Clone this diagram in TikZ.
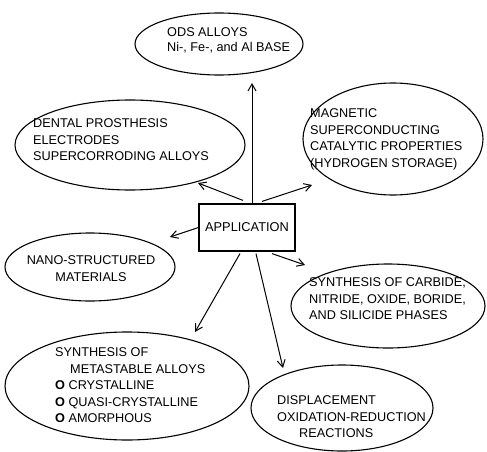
\documentclass[tikz,border=0pt]{standalone}
\usepackage{fontspec}
\setmainfont{Liberation Sans}
\usepackage{tikz}
\usetikzlibrary{calc,shapes.geometric,arrows.meta}
\tikzset{
  blob/.style={draw, ellipse, line width=1.1pt, inner sep=0pt},
  label/.style={inner sep=0pt, anchor=base west, align=left,
    font=\fontsize{12.7}{16.5}\selectfont},
  arr/.style={line width=1pt, -{Straight Barb[length=7pt,width=8pt]}}
}
\begin{document}
\begin{tikzpicture}[x=1pt,y=-1pt]
        \useasboundingbox (0,0) rectangle (487,452);
        % ellipses
        \node[blob, minimum width=168pt, minimum height=62pt] (ods) at (219,44) {};
        \node[blob, minimum width=230pt, minimum height=90pt] (dental) at (130,145) {};
        \node[blob, minimum width=180pt, minimum height=112pt] (magnetic) at (393,139) {};
        \node[blob, minimum width=170pt, minimum height=68pt] (nano) at (90,267) {};
        \node[blob, minimum width=194pt, minimum height=84pt] (carbide) at (388,306) {};
        \node[blob, minimum width=244pt, minimum height=108pt] (metastable) at (127,386) {};
        \node[blob, minimum width=182pt, minimum height=86pt] (displace) at (342,408) {};
        % centre box
        \node[draw, line width=1.2pt, minimum width=96pt, minimum height=47pt, inner sep=0pt,
            font=\fontsize{12.8}{15}\selectfont] (app) at (247,227.5) {APPLICATION};
        % texts (anchored at the baseline of the last line)
        \node[label, font=\fontsize{12.7}{15}\selectfont] (ods-text) at (167,51.5)
            {ODS ALLOYS\\Ni-, Fe-, and Al BASE};
        \node[label] (dental-text) at (33,160.5)
            {DENTAL PROSTHESIS\\ELECTRODES\\SUPERCORRODING ALLOYS};
        \node[label] (magnetic-text) at (310,167)
            {MAGNETIC\\SUPERCONDUCTING\\CATALYTIC PROPERTIES\\(HYDROGEN STORAGE)};
        \node[label, anchor=base, align=center] (nano-text) at (91,281)
            {NANO-STRUCTURED\\MATERIALS};
        \node[label] (carbide-text) at (309,319.5)
            {SYNTHESIS OF CARBIDE,\\NITRIDE, OXIDE, BORIDE,\\AND SILICIDE PHASES};
        \node[label] (metastable-text) at (55,422.5)
            {SYNTHESIS OF\\\hspace*{15pt}METASTABLE ALLOYS\\\textbf{O} CRYSTALLINE\\\textbf{O} QUASI-CRYSTALLINE\\\textbf{O} AMORPHOUS};
        \node[label] (displace-text) at (277,437.5)
            {DISPLACEMENT\\OXIDATION-REDUCTION\\\hspace*{22pt}REACTIONS};
        % arrow ends
        \coordinate (t-ods) at (252,83);
        \coordinate (t-dental) at (198,183);
        \coordinate (t-magnetic) at (312,185);
        \coordinate (t-nano) at (170,237);
        \coordinate (t-carbide) at (305,265);
        \coordinate (t-metastable) at (195,332);
        \coordinate (t-displace) at (283,368);
        \coordinate (s-dental) at ($(app.north)+(-4,-3)$);
        \coordinate (s-magnetic) at ($(app.north)+(15,-2)$);
        \coordinate (s-carbide) at ($(app.south)+(25,2)$);
        \coordinate (s-metastable) at ($(app.south)+(-7,2)$);
        \coordinate (s-displace) at ($(app.south)+(9,2)$);
        \draw[arr] (app.north -| t-ods) -- (t-ods);
        \foreach \s/\t in {s-dental/t-dental, s-magnetic/t-magnetic, app.west/t-nano,
            s-carbide/t-carbide, s-metastable/t-metastable, s-displace/t-displace}
        \draw[arr] (\s) -- (\t);
    \end{tikzpicture}
\end{document}
